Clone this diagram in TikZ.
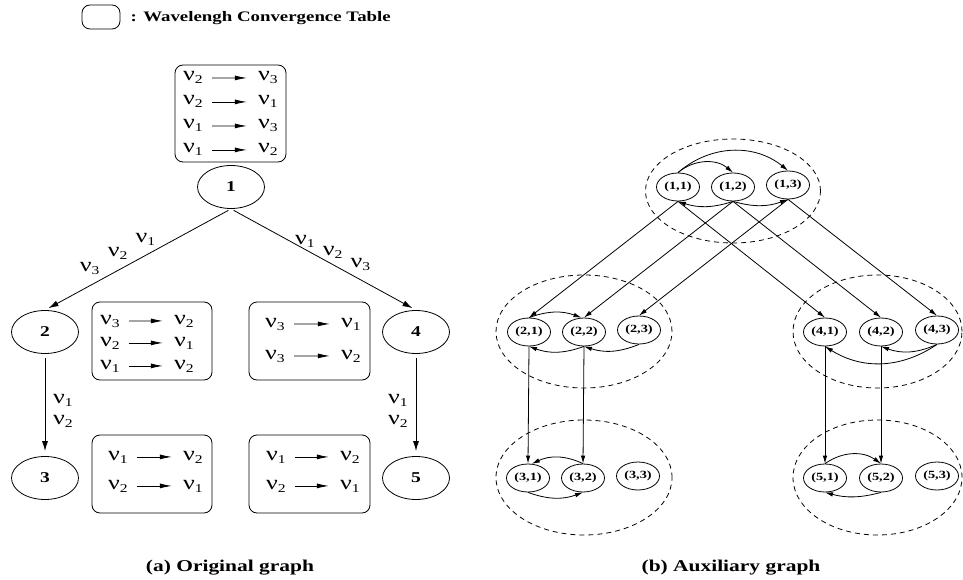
\documentclass[tikz,border=0pt]{standalone}
\usepackage{fontspec}
\setmainfont{Liberation Serif}[FakeStretch=1.3]
\usetikzlibrary{shapes.geometric,arrows.meta}

\newcommand{\wl}[1]{ν\raisebox{-3pt}{\fontsize{12}{12}\selectfont #1}}

\tikzstyle{vertex} = [draw,ellipse,minimum width=67pt,minimum height=43pt,inner sep=0pt,font=\fontsize{15}{15}\selectfont\bfseries]
\tikzstyle{aux} = [draw,ellipse,minimum width=43pt,minimum height=28pt,inner sep=0pt,font=\fontsize{11}{11}\selectfont\bfseries]
\tikzstyle{cluster} = [draw,ellipse,dash pattern=on 5pt off 4pt,inner sep=0pt]
\tikzstyle{wtable} = [draw,rectangle,rounded corners=8pt,inner sep=0pt]
\tikzstyle{wl} = [inner sep=0pt,anchor=base,font=\fontsize{20}{20}\selectfont]
\tikzstyle{link} = [-{Latex[length=10pt,width=6pt]}]
\tikzstyle{tabarr} = [-{Latex[length=12pt,width=5pt]},shorten <=9pt,shorten >=11pt]
\tikzstyle{auxarr} = [-{Latex[length=8pt,width=4.5pt]}]
\tikzstyle{capt} = [font=\fontsize{16.5}{16.5}\selectfont\bfseries]

\begin{document}
\begin{tikzpicture}[x=1pt,y=-1pt,node distance=55pt,line width=0.8pt]
	\useasboundingbox (0,0) rectangle (963,580);
	% legend
	\node (legbox) [wtable,minimum width=38pt,minimum height=24pt] at (101,17) {};
	\node (legtxt) [anchor=west,font=\fontsize{14.5}{14.5}\selectfont\bfseries] at (127,18) {: Wavelengh Convergence Table};
	% (a) original graph
	\node (n1) [vertex] at (231,187) {1};
	\node (n2) [vertex] at (45,332) {2};
	\node (n3) [vertex,below of=n2,node distance=146pt] {3};
	\node (n4) [vertex] at (416,332) {4};
	\node (n5) [vertex,below of=n4,node distance=146pt] {5};
	\draw [link,shorten <=3pt,shorten >=4pt] (n1.south) -- (n2.north)
		node (e12a) [wl,pos=0.46,yshift=13pt] {\wl{1}}
		node (e12b) [wl,pos=0.61,yshift=14pt] {\wl{2}}
		node (e12c) [wl,pos=0.76,yshift=14pt] {\wl{3}};
	\draw [link,shorten <=3pt,shorten >=4pt] (n1.south) -- (n4.north)
		node (e14a) [wl,pos=0.40,yshift=5pt] {\wl{1}}
		node (e14b) [wl,pos=0.55,yshift=9pt] {\wl{2}}
		node (e14c) [wl,pos=0.70,yshift=12pt] {\wl{3}};
	\draw [link,shorten <=4pt,shorten >=5pt] (n2.south) -- (n3.north)
		node (e23a) [wl,pos=0.49,xshift=18pt] {\wl{1}}
		node (e23b) [wl,pos=0.69,xshift=18pt] {\wl{2}};
	\draw [link,shorten <=4pt,shorten >=5pt] (n4.south) -- (n5.north)
		node (e45a) [wl,pos=0.49,xshift=-18pt] {\wl{1}}
		node (e45b) [wl,pos=0.69,xshift=-18pt] {\wl{2}};
	% wavelength convergence tables
	\node (tab1) [wtable,minimum width=111pt,minimum height=97pt] at (230.5,113.5) {};
	\node (t1a1) [wl] at (193,81) {\wl{2}};
	\node (t1b1) [wl] at (268,81) {\wl{3}};
	\node (t1a2) [wl] at (193,105) {\wl{2}};
	\node (t1b2) [wl] at (268,105) {\wl{1}};
	\node (t1a3) [wl] at (193,129) {\wl{1}};
	\node (t1b3) [wl] at (268,129) {\wl{3}};
	\node (t1a4) [wl] at (193,153) {\wl{1}};
	\node (t1b4) [wl] at (268,153) {\wl{2}};
	\draw [tabarr] (t1a1) -- (t1b1);
	\draw [tabarr] (t1a2) -- (t1b2);
	\draw [tabarr] (t1a3) -- (t1b3);
	\draw [tabarr] (t1a4) -- (t1b4);
	\node (tab2) [wtable,minimum width=120pt,minimum height=78pt] at (152,341) {};
	\node (t2a1) [wl] at (110,324) {\wl{3}};
	\node (t2b1) [wl] at (184,324) {\wl{2}};
	\node (t2a2) [wl] at (110,346) {\wl{2}};
	\node (t2b2) [wl] at (184,346) {\wl{1}};
	\node (t2a3) [wl] at (110,369) {\wl{1}};
	\node (t2b3) [wl] at (184,369) {\wl{2}};
	\draw [tabarr] (t2a1) -- (t2b1);
	\draw [tabarr] (t2a2) -- (t2b2);
	\draw [tabarr] (t2a3) -- (t2b3);
	\node (tab4) [wtable,minimum width=121pt,minimum height=78pt] at (309.5,341) {};
	\node (t4a1) [wl] at (275,327) {\wl{3}};
	\node (t4b1) [wl] at (351,327) {\wl{1}};
	\node (t4a2) [wl] at (275,359) {\wl{3}};
	\node (t4b2) [wl] at (351,359) {\wl{2}};
	\draw [tabarr] (t4a1) -- (t4b1);
	\draw [tabarr] (t4a2) -- (t4b2);
	\node (tab3) [wtable,minimum width=120pt,minimum height=78pt] at (152,474) {};
	\node (t3a1) [wl] at (118,460) {\wl{1}};
	\node (t3b1) [wl] at (193,460) {\wl{2}};
	\node (t3a2) [wl] at (118,489) {\wl{2}};
	\node (t3b2) [wl] at (193,489) {\wl{1}};
	\draw [tabarr] (t3a1) -- (t3b1);
	\draw [tabarr] (t3a2) -- (t3b2);
	\node (tab5) [wtable,minimum width=121pt,minimum height=78pt] at (309.5,474) {};
	\node (t5a1) [wl] at (276,460) {\wl{1}};
	\node (t5b1) [wl] at (350,460) {\wl{2}};
	\node (t5a2) [wl] at (276,489) {\wl{2}};
	\node (t5b2) [wl] at (350,489) {\wl{1}};
	\draw [tabarr] (t5a1) -- (t5b1);
	\draw [tabarr] (t5a2) -- (t5b2);
	\node (capa) [capt] at (230,568) {(a) Original graph};
	% (b) auxiliary graph
	\node (c1) [cluster,minimum width=175pt,minimum height=104pt] at (733,191) {};
	\node (c2) [cluster,minimum width=176pt,minimum height=113pt] at (584,331.5) {};
	\node (c3) [cluster,minimum width=176pt,minimum height=115pt] at (584,477.5) {};
	\node (c4) [cluster,minimum width=169pt,minimum height=113pt] at (877.5,331.5) {};
	\node (c5) [cluster,minimum width=169pt,minimum height=115pt] at (877.5,477.5) {};
	\node (v11) [aux] at (678,187) {(1,1)};
	\node (v12) [aux,right of=v11] {(1,2)};
	\node (v13) [aux,right of=v12,yshift=2pt] {(1,3)};
	\node (v21) [aux] at (529,332) {(2,1)};
	\node (v22) [aux,right of=v21] {(2,2)};
	\node (v23) [aux,right of=v22,yshift=2pt] {(2,3)};
	\node (v31) [aux] at (528,478) {(3,1)};
	\node (v32) [aux,right of=v31] {(3,2)};
	\node (v33) [aux,right of=v32,yshift=2pt] {(3,3)};
	\node (v41) [aux] at (825,332) {(4,1)};
	\node (v42) [aux,right of=v41,node distance=56pt] {(4,2)};
	\node (v43) [aux,right of=v42,node distance=56pt,yshift=2pt] {(4,3)};
	\node (v51) [aux] at (825,478) {(5,1)};
	\node (v52) [aux,right of=v51,node distance=56pt] {(5,2)};
	\node (v53) [aux,right of=v52,node distance=56pt,yshift=2pt] {(5,3)};
	\draw [auxarr] (v11.north) to[bend left=40] (v12.north);
	\draw [auxarr] (v11.north) to[bend left=40] (v13.north);
	\draw [auxarr] (v12.south) to[bend left=18] (v11.south);
	\draw [auxarr] (v12.south) to[bend right=18] (v13.south);
	\draw [auxarr] (v21.north) to[bend left=20] (v22.100);
	\draw [auxarr] (v22.south) to[bend left=20] (v21.south);
	\draw [auxarr] (v23.south) to[bend left=20] (v22.south);
	\draw [auxarr] (v32.north) to[bend right=25] (v31.75);
	\draw [auxarr] (v31.south) to[bend right=20] (v32.south);
	\draw [auxarr] (v43.south) to[bend left=22] (v42.south);
	\draw [auxarr] (v43.south) to[bend left=33] (v41.south);
	\draw [auxarr] (v51.north) to[bend left=35] (v52.north);
	\draw [auxarr] (v52.south) to[bend left=15] (v51.south);
	\draw [auxarr] (v11.south) -- (v21.north);
	\draw [auxarr] (v12.south) -- (v22.north);
	\draw [auxarr] (v13.south) -- (v23.north);
	\draw [auxarr] (v11.south) -- (v41.north);
	\draw [auxarr] (v12.south) -- (v42.north);
	\draw [auxarr] (v13.south) -- (v43.north);
	\draw [auxarr] (v21.south) -- (v31.north);
	\draw [auxarr] (v22.south) -- (v32.north);
	\draw [auxarr] (v41.south) -- (v51.north);
	\draw [auxarr] (v42.south) -- (v52.north);
	\node (capb) [capt] at (731,568) {(b) Auxiliary graph};
\end{tikzpicture}
\end{document}
